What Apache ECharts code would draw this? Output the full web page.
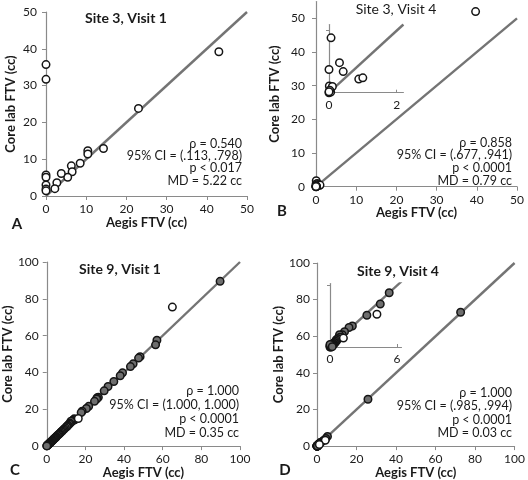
<!DOCTYPE html>
<html><head><meta charset="utf-8">
<script src="https://cdn.jsdelivr.net/npm/echarts@6/dist/echarts.min.js"></script>
<style>html,body{margin:0;padding:0;background:#fff}#c{width:528px;height:480px}</style>
</head><body><div id="c"></div>
<script>
// ---------- data ----------
const panelTitles = ['Site 3, Visit 1', 'Site 3, Visit 4', 'Site 9, Visit 1', 'Site 9, Visit 4'];
const panelLetters = ['A', 'B', 'C', 'D'];
const xAxisName = 'Aegis FTV (cc)';
const yAxisName = 'Core lab FTV (cc)';
const statsA = ['\u03c1 = 0.540', '95% CI = (.113, .798)', 'p < 0.017', 'MD = 5.22 cc'];
const statsB = ['\u03c1 = 0.858', '95% CI = (.677, .941)', 'p < 0.0001', 'MD = 0.79 cc'];
const statsC = ['\u03c1 = 1.000', '95% CI = (1.000, 1.000)', 'p < 0.0001', 'MD = 0.35 cc'];
const statsD = ['\u03c1 = 1.000', '95% CI = (.985, .994)', 'p < 0.0001', 'MD = 0.03 cc'];

const ticks50 = [0, 10, 20, 30, 40, 50];
const ticks100 = [0, 20, 40, 60, 80, 100];
const insetBLabels = [0, 2];
const insetBTicks = [2];
const insetDLabels = [0, 6];
const insetDTicks = [6];

// Site 3, Visit 1 (Aegis, Core lab)
const site3v1 = [[0, 35.7], [0, 31.7], [43.0, 39.2], [23.0, 23.8], [14.3, 12.9], [10.4, 12.3], [10.4, 11.4],
  [8.5, 8.9], [6.3, 8.2], [6.5, 6.6], [5.4, 5.1], [3.8, 6.1], [2.7, 3.6], [2.2, 2.0], [0, 5.7], [0, 5.1],
  [0, 3.0], [0, 1.9], [0, 1.4]];
// Site 3, Visit 4
const site3v4 = [[39.7, 52.0], [0.06, 1.77], [0, 0.75], [0.31, 0.97], [0.42, 0.68], [0.88, 0.44], [1.0, 0.48],
  [0.01, 0.22], [0.1, 0.2], [0, 0], [0.03, 0.05], [0.05, 0.02], [0.02, 0.08], [0, 0.03]];
// Site 9, Visit 1 (on-line points and open outliers)
const site9v1 = [[89.7, 89.5], [57, 57.5], [56.3, 55], [48.3, 48.6], [47.5, 47.8], [44.7, 44.7], [43.3, 43.2],
  [39.2, 39.8], [38, 38.2], [34.7, 35.1], [31.7, 32.4], [29.7, 30], [26.7, 26.5], [26, 26.2], [25.8, 25.6],
  [24.7, 24.3], [21.7, 21.6], [20.5, 20.4], [18.3, 18.9], [17.8, 18.2], [14.5, 14.3], [14.2, 14.8],
  [13.9, 14.2], [13.5, 14], [13.1, 13.6], [12.8, 13.2], [12.5, 13.5], [12, 12.4], [11.6, 12.0], [11, 11.3],
  [10.6, 10.9], [10.3, 10.5], [9.6, 9.9], [9, 9.3], [8.5, 8.8], [8.0, 8.2], [7.5, 7.8], [7, 7.2], [6.6, 6.8],
  [6.3, 6.5], [5.9, 6.1], [5.5, 5.8], [5, 5.2], [4.7, 4.8], [4.5, 4.6], [4.2, 4.4], [4, 4.1], [3.7, 3.9],
  [3.5, 3.7], [3.2, 3.3], [3, 3.1], [2.8, 2.9], [2.6, 2.7], [2.4, 2.5], [2.2, 2.3], [2.0, 2.1], [1.8, 1.9],
  [1.6, 1.7], [1.5, 1.6], [1.3, 1.4], [1.2, 1.2], [1.0, 1.1], [0.9, 1.0], [0.7, 0.8], [0.6, 0.7], [0.4, 0.5],
  [0.3, 0.4], [0.2, 0.3], [0.1, 0.2], [0, 0.1]];
const site9v1Open = [[65, 75.5], [16.3, 15]];
// Site 9, Visit 4
const site9v4 = [[72.7, 73.1], [25.8, 25.6], [5.3, 5.3], [4.5, 4.2], [3.3, 3.1], [2.0, 2.05], [1.7, 1.9],
  [1.3, 1.5], [1.1, 1.2], [0.85, 1.2], [0.9, 0.95], [0.7, 0.8], [0.6, 0.6], [0.55, 0.7], [0.5, 0.55],
  [0.45, 0.4], [0.4, 0.45], [0.35, 0.3], [0.3, 0.35], [0.28, 0.25], [0.25, 0.2], [0.2, 0.25], [0.15, 0.15],
  [0.1, 0.1], [0.08, 0.12], [0.05, 0.05], [0.03, 0.02], [0, 0], [0.02, 0.06], [0.12, 0.05], [0.18, 0.1],
  [0.06, 0.18], [0, 0.12], [0.1, 0], [0, 0.25], [0.2, 0.03]];
const site9v4Open = [[4.2, 3.2], [1.2, 0.87]];

const identity50 = [[0, 0], [50, 50]];
const identity100 = [[0, 0], [100, 100]];
const identityInsetB = [[0, 0], [2.2, 2.2]];
const identityInsetD = [[0, 0], [6.4, 6.4]];

// ---------- styles ----------
const FONT = 'Lato, "Open Sans", sans-serif';
const TXT = '#1a1a1a';
const AX = '#8a8a8a';
const LINE = '#747474';

const grids = [
  {left: 46, top: 12, width: 201, height: 184},     // A
  {left: 316, top: 1.5, width: 201, height: 185.2}, // B
  {left: 40, top: 262, width: 200, height: 185},    // C
  {left: 317, top: 263, width: 202, height: 184},   // D
  {left: 329, top: 24.5, width: 74.4, height: 68.2},// B inset
  {left: 330, top: 283.5, width: 71.5, height: 63.5}// D inset
];

function mainX(gi, max, ticks, gap) {
  return {type: 'value', gridIndex: gi, min: 0, max: max, interval: ticks[1] - ticks[0],
    name: xAxisName, nameLocation: 'middle', nameGap: gap,
    nameTextStyle: {fontFamily: FONT, fontSize: 13, fontWeight: 'bold', color: TXT},
    axisLine: {show: true, lineStyle: {color: AX, width: 1.2}},
    axisTick: {show: true, inside: false, length: 4, lineStyle: {color: AX}},
    axisLabel: {fontFamily: FONT, fontSize: 12, color: TXT, margin: 7},
    splitLine: {show: false}};
}
function mainY(gi, max, ticks, gap, margin) {
  const ax = {type: 'value', gridIndex: gi, min: 0, max: max, interval: ticks[1] - ticks[0],
    name: yAxisName, nameLocation: 'middle', nameGap: gap,
    nameTextStyle: {fontFamily: FONT, fontSize: 13, fontWeight: 'bold', color: TXT},
    axisLine: {show: true, lineStyle: {color: AX, width: 1.2}},
    axisTick: {show: true, inside: false, length: 4, lineStyle: {color: AX}},
    axisLabel: {fontFamily: FONT, fontSize: 12, color: TXT, margin: margin},
    splitLine: {show: false}};
  if (max !== ticks[ticks.length - 1]) {
    ax.axisLabel.customValues = ticks;
    ax.axisTick.customValues = ticks;
  }
  return ax;
}
function insetX(gi, max, labels, tks) {
  return {type: 'value', gridIndex: gi, min: 0, max: max,
    axisLine: {show: true, lineStyle: {color: AX, width: 1.2}},
    axisTick: {show: true, inside: true, length: 3, customValues: tks, lineStyle: {color: AX}},
    axisLabel: {fontFamily: FONT, fontSize: 12, color: TXT, margin: 6, customValues: labels},
    splitLine: {show: false}};
}
function insetY(gi, max, tks) {
  return {type: 'value', gridIndex: gi, min: 0, max: max,
    axisLine: {show: true, lineStyle: {color: AX, width: 1.2}},
    axisTick: {show: true, inside: false, length: 3, customValues: tks, lineStyle: {color: AX}},
    axisLabel: {show: false},
    splitLine: {show: false}};
}

const xAxes = [
  mainX(0, 50, ticks50, 19),
  mainX(1, 50, ticks50, 20),
  mainX(2, 100, ticks100, 18.5),
  mainX(3, 100, ticks100, 19.5),
  insetX(4, 2.2, insetBLabels, insetBTicks),
  insetX(5, 6.4, insetDLabels, insetDTicks)
];
const yAxes = [
  mainY(0, 50, ticks50, 29, 9),
  mainY(1, 55, ticks50, 35, 11),
  mainY(2, 100, ticks100, 27, 8),
  mainY(3, 100, ticks100, 28, 7),
  insetY(4, 2.2, insetBTicks),
  insetY(5, 6.2, insetDTicks)
];

function idLine(i, data) {
  return {type: 'line', xAxisIndex: i, yAxisIndex: i, data: data, symbol: 'none', silent: true,
    lineStyle: {color: LINE, width: 2.4}, z: 2, animation: false};
}
function pts(i, data, fill, size) {
  return {type: 'scatter', xAxisIndex: i, yAxisIndex: i, data: data, symbol: 'circle', symbolSize: size || 7.5,
    itemStyle: {color: fill, borderColor: '#151515', borderWidth: 1.5, opacity: 1}, z: 3, animation: false};
}

const series = [
  idLine(0, identity50), pts(0, site3v1, '#ffffff'),
  idLine(1, identity50), pts(1, site3v4, '#ffffff'),
  idLine(2, identity100), pts(2, site9v1, '#6e6e6e'), pts(2, site9v1Open, '#ffffff'),
  idLine(3, identity100), pts(3, site9v4, '#6e6e6e'), pts(3, site9v4Open, '#ffffff'),
  idLine(4, identityInsetB), pts(4, site3v4, '#ffffff'),
  idLine(5, identityInsetD), pts(5, site9v4, '#6e6e6e'), pts(5, site9v4Open, '#ffffff')
];

function txt(x, y, text, size, weight, align, lh) {
  return {type: 'text', x: x, y: y, silent: true,
    style: {text: text, fontFamily: FONT, fontSize: size, fontWeight: weight || 'normal', fill: TXT,
      align: align || 'center', verticalAlign: 'middle', lineHeight: lh || size}};
}
function stats(xr, yTop, lines, lh) {
  return {type: 'text', x: xr, y: yTop, silent: true,
    style: {text: lines.join('\n'), fontFamily: FONT, fontSize: 12.5, fill: TXT, align: 'right',
      verticalAlign: 'top', lineHeight: lh}};
}

const graphic = [
  txt(126, 18, panelTitles[0], 14, 'bold'),
  txt(396, 9, panelTitles[1], 14, 'normal'),
  txt(120, 269, panelTitles[2], 14, 'bold'),
  txt(398, 271, panelTitles[3], 14, 'bold'),
  txt(17, 224, panelLetters[0], 15, 'bold'),
  txt(282, 211, panelLetters[1], 15, 'bold'),
  txt(15, 470, panelLetters[2], 15, 'bold'),
  txt(285, 470, panelLetters[3], 15, 'bold'),
  stats(242, 137.5, statsA, 12.3),
  stats(512, 136.5, statsB, 12.6),
  stats(239, 384.5, statsC, 13.9),
  stats(512, 386.5, statsD, 13.3)
];

const chart = echarts.init(document.getElementById('c'), null, {renderer: 'canvas'});
chart.setOption({
  animation: false,
  backgroundColor: '#ffffff',
  grid: grids.map(g => Object.assign({containLabel: false}, g)),
  xAxis: xAxes,
  yAxis: yAxes,
  series: series,
  graphic: graphic
});
</script></body></html>
